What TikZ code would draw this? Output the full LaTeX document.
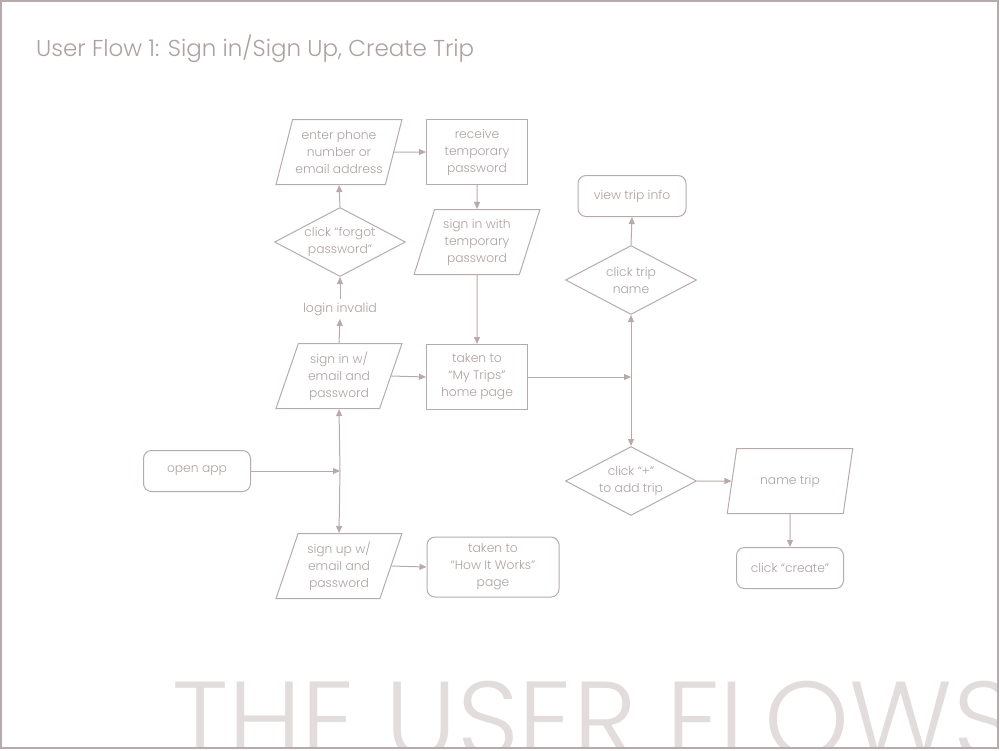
\documentclass[tikz,border=0pt]{standalone}
\usepackage{fontspec}
\setmainfont{Poppins}[UprightFont=* Light]
\usetikzlibrary{shapes.geometric,arrows.meta}
\definecolor{ln}{HTML}{B8AAAA}
\definecolor{tx}{HTML}{ADA0A0}
\definecolor{big}{HTML}{E2DCDC}
\tikzset{
  base/.style={draw=ln, line width=1pt, text=tx, align=center, font=\fontsize{12.3}{17}\selectfont, inner sep=2pt},
  proc/.style={base, rectangle, minimum width=101, minimum height=65},
  term/.style={base, rectangle, rounded corners=8, minimum height=41},
  io/.style={base, trapezium, trapezium left angle=71, trapezium right angle=109, trapezium stretches=true, minimum width=126, minimum height=65},
  dec/.style={base, diamond, aspect=1.9, inner sep=0pt, minimum width=131, minimum height=69},
  plain/.style={text=tx, font=\fontsize{12.5}{17}\selectfont},
  conn/.style={draw=ln, line width=1pt, -{Triangle[length=7pt,width=6pt]}},
}
\begin{document}
\begin{tikzpicture}[x=1pt,y=-1pt]
\useasboundingbox (0,0) rectangle (1000,750);
% big watermark text
\begin{scope}
\clip (1,1) rectangle (998,748);
\node[anchor=base west, inner sep=0, text=big, font=\fontsize{108}{108}\selectfont] (bigt) at (172,757) {THE USER FLOWS};
\end{scope}
\draw[draw=ln, line width=2pt] (1,1) rectangle (998,748);
\node[anchor=base west, inner sep=0, text=tx, font=\fontsize{23}{27}\selectfont] (title) at (36,56) {User Flow 1: Sign in/Sign Up, Create Trip};

% nodes
\node[io] (enter) at (339,152) {enter phone\\number or\\email address};
\node[proc] (recv) at (477,152) {receive\\temporary\\password};
\node[dec] (forgot) at (340,242) {click ``forgot\\password''};
\node[io] (signtemp) at (477,242) {sign in with\\temporary\\password};
\node[plain] (invalid) at (340,309) {login invalid};
\node[io] (signin) at (339,376) {sign in w/\\email and\\password};
\node[proc] (mytrips) at (477,377) {taken to\\``My Trips''\\home page};
\node[term, minimum width=107] (open) at (197,471) {open app};
\node[io] (signup) at (339,566) {sign up w/\\email and\\password};
\node[term, minimum width=132, minimum height=60] (how) at (493,567) {taken to\\``How It Works''\\page};
\node[term, minimum width=108] (view) at (632,196) {view trip info};
\node[dec] (tripname) at (631,280) {click trip\\name};
\node[dec] (add) at (631,481) {click ``+''\\to add trip};
\node[io] (name) at (790,481) {name trip};
\node[term, minimum width=107] (create) at (790,568) {click ``create''};

\coordinate (j1) at (340,471);
\coordinate (j2) at (631,377);

% connectors
\draw[conn] (enter.east) -- (recv.west);
\draw[conn] (recv.south) -- (signtemp.north);
\draw[conn] (forgot.north) -- (enter.south);
\draw[conn] (invalid.north) -- (forgot.south);
\draw[conn] (signin.north) -- (invalid.south);
\draw[conn] (signtemp.south) -- (mytrips.north);
\draw[conn] (signin.east) -- (mytrips.west);
\draw[conn] (mytrips.east) -- (j2);
\draw[conn] (j2) -- (tripname.south);
\draw[conn] (j2) -- (add.north);
\draw[conn] (tripname.north) -- (view.south);
\draw[conn] (add.east) -- (name.west);
\draw[conn] (name.south) -- (create.north);
\draw[conn] (open.east) -- (j1);
\draw[conn] (j1) -- (signin.south);
\draw[conn] (j1) -- (signup.north);
\draw[conn] (signup.east) -- (how.west);
\end{tikzpicture}
\end{document}
